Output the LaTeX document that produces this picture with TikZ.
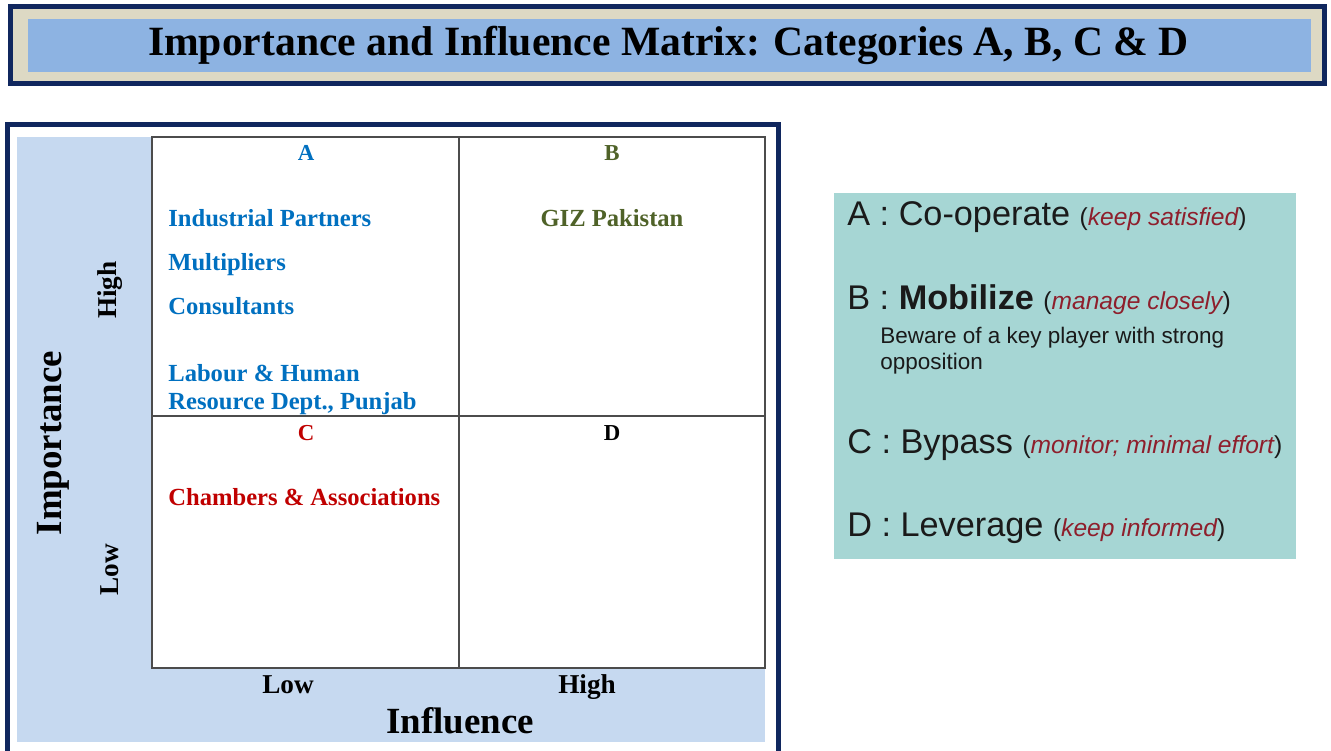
\documentclass[tikz,border=0pt]{standalone}
\usepackage{fontspec}
\setmainfont{Liberation Serif}
\newfontfamily\legendfont{Liberation Sans}
\usepackage{tikz}
\usepackage{color}

\definecolor{navyframe}{HTML}{10275E}
\definecolor{beigeband}{HTML}{DDD9C4}
\definecolor{titleblue}{HTML}{8DB3E2}
\definecolor{axisblue}{HTML}{C6D9F0}
\definecolor{quadA}{HTML}{0070C0}
\definecolor{quadB}{HTML}{4F6228}
\definecolor{quadC}{HTML}{C00000}
\definecolor{legendteal}{HTML}{A6D6D4}
\definecolor{legendred}{HTML}{8E1F2C}
\definecolor{legendtext}{HTML}{1A1A1A}

\tikzset{
  quadlbl/.style={font=\fontsize{13}{15}\selectfont\bfseries, anchor=base},
  entry/.style={font=\fontsize{14}{16}\selectfont\bfseries, anchor=base west, inner sep=0pt},
  axislbl/.style={font=\fontsize{15.5}{18}\selectfont\bfseries, inner sep=0pt},
  axistitle/.style={font=\fontsize{21}{24}\selectfont\bfseries, inner sep=0pt},
  legend/.style={font=\legendfont\fontsize{19.5}{22}\selectfont, text=legendtext, anchor=base west, inner sep=0pt}
}
\newcommand{\keepnote}[1]{{\fontsize{14}{16}\selectfont(\textcolor{legendred}{\itshape #1})}}

\begin{document}
\begin{tikzpicture}[x=0.02cm, y=-0.02cm, line cap=round]
  \useasboundingbox (0,0) rectangle (1331,750);
  \clip (0,0) rectangle (1331,750);

  % title banner
  \draw[fill=beigeband, draw=navyframe, line width=5*0.02cm] (10.5,6.5) rectangle (1324.5,83.5);
  \fill[titleblue] (28,19) rectangle (1311,72);
  \node[font=\fontsize{23.7}{26}\selectfont\bfseries] (title) at (668.5,45.5)
    {Importance and Influence Matrix: Categories A, B, C \& D};

  % left panel with the axes band
  \draw[draw=navyframe, line width=5*0.02cm] (7.5,124.5) rectangle (778.5,790);
  \fill[axisblue] (17,137) rectangle (765,742);
  \fill[white] (152,137) rectangle (765,668);

  % the four quadrants
  \draw[black!70, line width=0.035cm] (152,137) rectangle (765,668);
  \draw[black!70, line width=0.035cm] (459,137) -- (459,668);
  \draw[black!70, line width=0.035cm] (152,416) -- (765,416);

  \node[quadlbl, text=quadA] (qa) at (306,160) {A};
  \node[quadlbl, text=quadB] (qb) at (612,160) {B};
  \node[quadlbl, text=quadC] (qc) at (306,440) {C};
  \node[quadlbl] (qd) at (612,440) {D};

  % stakeholders
  \node[entry, text=quadA] (partners) at (168,226) {Industrial Partners};
  \node[entry, text=quadA] (multipliers) at (168,270) {Multipliers};
  \node[entry, text=quadA] (consultants) at (168,314) {Consultants};
  \node[entry, text=quadA] (labour) at (168,381) {Labour \& Human};
  \node[entry, text=quadA] (labour2) at (168,409) {Resource Dept., Punjab};
  \node[entry, text=quadB, anchor=base] (giz) at (612,226) {GIZ Pakistan};
  \node[entry, text=quadC] (chambers) at (168,505) {Chambers \& Associations};

  % axis labels
  \node[axistitle, rotate=90] (importance) at (53,443) {Importance};
  \node[axislbl, rotate=90] (imphigh) at (110,290) {High};
  \node[axislbl, rotate=90] (implow) at (110,570) {Low};
  \node[axislbl, anchor=base] (inflow) at (288,693) {Low};
  \node[axislbl, anchor=base] (infhigh) at (587,693) {High};
  \node[axistitle, anchor=base] (influence) at (460,733) {Influence};

  % legend
  \fill[legendteal] (834,193) rectangle (1296,559);
  \node[legend] (lega) at (847,225) {A : Co-operate \keepnote{keep satisfied}};
  \node[legend] (legb) at (847,309) {B : {\bfseries Mobilize} \keepnote{manage closely}};
  \node[legend, font=\legendfont\fontsize{12.8}{15}\selectfont] (legb1) at (880,343) {Beware of a key player with strong};
  \node[legend, font=\legendfont\fontsize{12.8}{15}\selectfont] (legb2) at (880,369) {opposition};
  \node[legend] (legc) at (847,453) {C : Bypass \keepnote{monitor; minimal effort}};
  \node[legend] (legd) at (847,536) {D : Leverage \keepnote{keep informed}};
\end{tikzpicture}
\end{document}
